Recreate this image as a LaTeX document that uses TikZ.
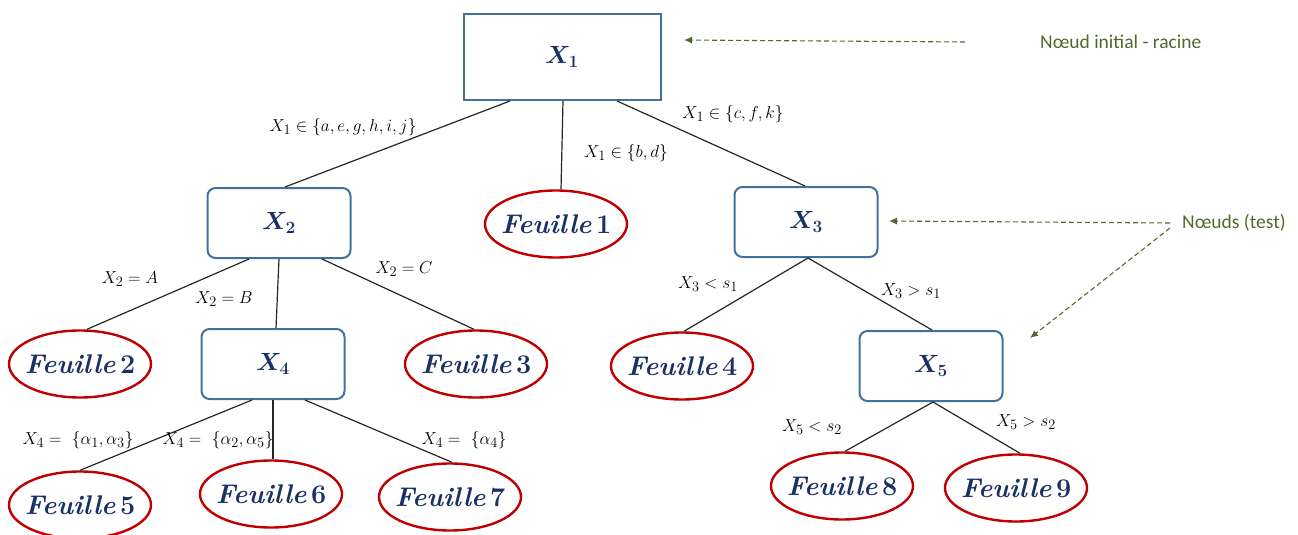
\documentclass[tikz,border=0pt]{standalone}
\usepackage{fontspec}
\usepackage{amsmath,bm}
\usetikzlibrary{shapes.geometric,arrows.meta}
\newfontfamily\annfont{Carlito}
\definecolor{navy}{HTML}{1A3263}
\definecolor{boxblue}{HTML}{41719C}
\definecolor{leafred}{HTML}{C00000}
\definecolor{anngreen}{HTML}{4F6B2C}
\tikzset{
  rootbox/.style={draw=boxblue,line width=2pt,minimum width=197,minimum height=86,inner sep=0,text=navy,font=\fontsize{25}{28}\selectfont},
  testbox/.style={draw=boxblue,line width=2pt,rounded corners=8,minimum width=143,minimum height=70,inner sep=0,text=navy,font=\fontsize{25}{28}\selectfont},
  leaf/.style={draw=leafred,line width=2.4pt,ellipse,minimum width=142,minimum height=67,inner xsep=-12pt,inner ysep=0pt,text=navy,font=\fontsize{27}{30}\selectfont},
  edge/.style={line width=1.2pt,black!85},
  lbl/.style={inner sep=0,font=\fontsize{19}{22}\selectfont},
  ann/.style={inner sep=0,text=anngreen,font=\annfont\fontsize{19.5}{22}\selectfont},
  annarrow/.style={draw=anngreen,line width=1.1pt,dash pattern=on 5pt off 3pt,-{Latex[length=8pt,width=7pt]}}
}
\newcommand{\leaftext}[1]{{\bfseries\itshape Feuille}\,\textbf{#1}}
\begin{document}
\begin{tikzpicture}[x=1pt,y=-1pt]
\useasboundingbox (0,0) rectangle (1298,535);
\begin{scope}
\clip (0,0) rectangle (1298,535);
% nodes
\node[rootbox] (X1) at (562,57) {$\bm{X_1}$};
\node[testbox] (X2) at (279,223) {$\bm{X_2}$};
\node[leaf] (F1) at (556,224) {\leaftext{1}};
\node[testbox] (X3) at (806,222) {$\bm{X_3}$};
\node[leaf] (F2) at (80,364) {\leaftext{2}};
\node[testbox] (X4) at (273,364) {$\bm{X_4}$};
\node[leaf] (F3) at (476,364) {\leaftext{3}};
\node[leaf] (F4) at (682,366) {\leaftext{4}};
\node[testbox] (X5) at (931,366) {$\bm{X_5}$};
\node[leaf] (F5) at (80,505) {\leaftext{5}};
\node[leaf] (F6) at (271,494) {\leaftext{6}};
\node[leaf] (F7) at (450,497) {\leaftext{7}};
\node[leaf] (F8) at (842,486) {\leaftext{8}};
\node[leaf] (F9) at (1016,488) {\leaftext{9}};
% edges
\draw[edge] ([xshift=-52]X1.south) -- ([xshift=6]X2.north);
\draw[edge] ([xshift=1]X1.south) -- ([xshift=5]F1.north);
\draw[edge] ([xshift=55]X1.south) -- ([xshift=-1]X3.north);
\draw[edge] ([xshift=-30]X2.south) -- ([xshift=7]F2.north);
\draw[edge] (X2.south) -- ([xshift=3]X4.north);
\draw[edge] ([xshift=43]X2.south) -- ([xshift=-2]F3.north);
\draw[edge] ([xshift=2]X3.south) -- ([xshift=2]F4.north);
\draw[edge] ([xshift=2]X3.south) -- ([xshift=1]X5.north);
\draw[edge] ([xshift=-21]X4.south) -- (F5.north);
\draw[edge] (X4.south) -- ([xshift=2]F6.north);
\draw[edge] ([xshift=32]X4.south) -- ([xshift=2]F7.north);
\draw[edge] ([xshift=2]X5.south) -- ([xshift=3]F8.north);
\draw[edge] ([xshift=2]X5.south) -- ([xshift=4]F9.north);
% edge labels
\node[lbl] (l1) at (343,127) {$X_1 \in \{a,e,g,h,i,j\}$};
\node[lbl] (l2) at (626,153) {$X_1 \in \{b,d\}$};
\node[lbl] (l3) at (733,114) {$X_1 \in \{c,f,k\}$};
\node[lbl] (l4) at (130,279) {$X_2 = A$};
\node[lbl] (l5) at (224,299) {$X_2 = B$};
\node[lbl] (l6) at (404,269) {$X_2 = C$};
\node[lbl] (l7) at (708,284) {$X_3 < s_1$};
\node[lbl] (l8) at (911,291) {$X_3 > s_1$};
\node[lbl] (l9) at (78,440) {$X_4 =\ \{\alpha_1,\alpha_3\}$};
\node[lbl] (l10) at (218,440) {$X_4 =\ \{\alpha_2,\alpha_5\}$};
\node[lbl] (l11) at (464,440) {$X_4 =\ \{\alpha_4\}$};
\node[lbl] (l12) at (812,427) {$X_5 < s_2$};
\node[lbl] (l13) at (1026,422) {$X_5 > s_2$};
% annotations
\node[ann,anchor=west] (a1) at (1040,42) {Nœud initial - racine};
\node[ann,anchor=west] (a2) at (1182,223) {Nœuds (test)};
\coordinate (t1) at (684,40);
\coordinate (t2) at (889,221);
\coordinate (t3) at (1030,338);
\draw[annarrow] ([xshift=-75]a1.west) -- (t1);
\draw[annarrow] ([xshift=-12]a2.west) -- (t2);
\draw[annarrow] ([shift={(-12,5)}]a2.west) -- (t3);
\end{scope}
\end{tikzpicture}
\end{document}
